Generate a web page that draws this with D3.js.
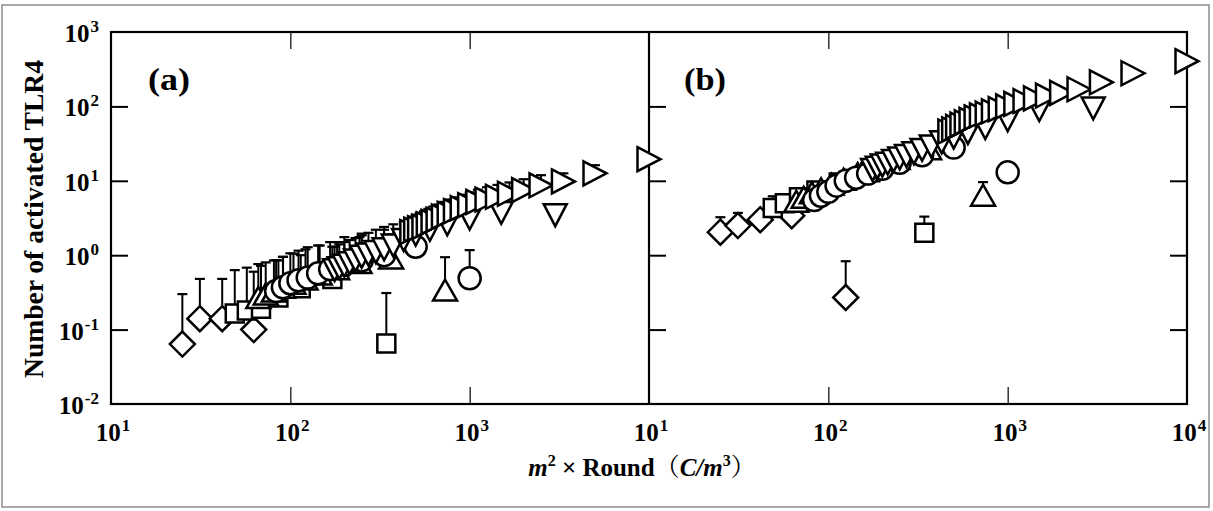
<!DOCTYPE html>
<html><head><meta charset="utf-8">
<script src="https://cdn.jsdelivr.net/npm/d3@7"></script>
<style>
html,body{margin:0;padding:0;background:#fff;}
svg text{font-family:"Liberation Serif","Times New Roman",serif;font-weight:bold;fill:#000;}
</style></head>
<body>
<svg id="chart" width="1213" height="511"></svg>
<script>
// ---------------- data ----------------
const xTickValues = [10, 100, 1000, 10000];
const xTickExpA = ["1", "2", "3"];
const xTickExpB = ["1", "2", "3", "4"];
const yTickValues = [0.01, 0.1, 1, 10, 100, 1000];
const yTickExp = ["-2", "-1", "0", "1", "2", "3"];
const panelLabels = ["(a)", "(b)"];
const yTitle = "Number of activated TLR4";

// panel (a)
const aDiamondX = [25, 31.3, 41.7, 62.5];
const aDiamondY = [0.064, 0.14, 0.14, 0.10];
const aDiamondHi = [0.30, 0.48, 0.48, 0.60];

const aSquareX = [343, 171.5, 114.3, 85.8, 68.6, 57.2, 49];
const aSquareY = [0.065, 0.48, 0.36, 0.27, 0.19, 0.18, 0.165];
const aSquareHi = [0.31, 1.3, 1.0, 0.85, 0.72, 0.68, 0.63];

const aUpX = [729, 364.5, 243, 182.3, 145.8, 121.5, 104.1, 91.1, 81, 72.9, 66.3];
const aUpY = [0.34, 0.92, 0.8, 0.66, 0.56, 0.48, 0.42, 0.37, 0.33, 0.30, 0.27];
const aUpHi = [0.94, 1.9, 1.75, 1.5, 1.35, 1.2, 1.05, 0.95, 0.85, 0.8, 0.76];

const aCircleX = [1000, 500, 333.3, 250, 200, 166.7, 142.9, 125, 111.1, 100, 90.9, 83.3];
const aCircleY = [0.49, 1.3, 1.0, 0.85, 0.75, 0.65, 0.57, 0.5, 0.46, 0.42, 0.37, 0.33];
const aCircleHi = [1.17, 2.6, 2.2, 1.95, 1.75, 1.5, 1.35, 1.28, 1.15, 1.06, 0.95, 0.86];

const aDownX = [3000, 1500, 1000, 750, 600, 500, 428.6, 375, 333.3, 300, 272.7, 250, 230.8, 214.3, 200, 187.5, 176.5];
const aDownY = [3.45, 3.7, 3.1, 2.6, 2.2, 1.9, 1.6, 1.35, 1.2, 1.1, 1.02, 0.95, 0.85, 0.78, 0.72, 0.67, 0.63];
const aDownHi = [4.0, 4.6, 4.2, 3.8, 3.4, 3.1, 2.8, 2.6, 2.4, 2.2, 2.0, 1.85, 1.7, 1.6, 1.5, 1.4, 1.3];

const aRightX = [10000, 5000, 3333, 2500, 2000, 1667, 1429, 1250, 1111, 1000, 909, 833, 769, 714, 667, 625, 588, 556, 526, 500, 476];
const aRightY = [19.5, 12.6, 9.8, 8.7, 7.5, 6.7, 6.1, 5.6, 5.2, 4.7, 4.3, 3.9, 3.6, 3.3, 3.0, 2.8, 2.6, 2.4, 2.3, 2.2, 2.05];
const aRightHi = [22, 16.2, 12.6, 11.9, 10.5, 9.5, 8.8, 8.2, 7.6, 7.0, 6.5, 6.0, 5.6, 5.2, 4.8, 4.5, 4.2, 3.9, 3.7, 3.5, 3.3];

// panel (b)
const bDiamondX = [25, 31.3, 41.7, 62.5, 125];
const bDiamondY = [2.04, 2.5, 3.0, 3.4, 0.27];
const bDiamondHi = [3.24, 3.7, 3.3, 3.8, 0.83];

const bSquareX = [343, 171.5, 114.3, 85.8, 68.6, 57.2, 49];
const bSquareY = [2.0, 13, 9.5, 7.4, 6.0, 5.0, 4.3];
const bSquareHi = [3.3, 14, 10.5, 8.2, 6.6, 5.6, 6.2];

const bUpX = [729, 364.5, 243, 182.3, 145.8, 121.5, 104.1, 91.1, 81, 72.9, 66.3];
const bUpY = [6.4, 27, 20, 15.5, 12.5, 10.5, 9, 7.8, 6.9, 6.0, 5.3];
const bUpHi = [9.6, 30, 22, 17, 14, 11.5, 10, 8.6, 7.6, 6.6, 6.0];

const bCircleX = [1000, 500, 333.3, 250, 200, 166.7, 142.9, 125, 111.1, 100, 90.9, 83.3];
const bCircleY = [13, 28, 22, 17.5, 14.5, 12.5, 11, 10, 8.6, 7.1, 6.3, 5.5];
const bCircleHi = [13.5, 31, 24, 19, 16, 13.5, 12, 11, 9.4, 7.8, 6.9, 6.0];

const bDownX = [3000, 1500, 1000, 750, 600, 500, 428.6, 375, 333.3, 300, 272.7, 250, 230.8, 214.3, 200, 187.5, 176.5];
const bDownY = [94, 89, 65, 51, 44, 38, 33, 29, 26, 23.5, 21.5, 20, 18.5, 17, 16, 15, 14];
const bDownHi = [104, 98, 72, 56, 48, 42, 36, 32, 29, 26, 24, 22, 20, 19, 18, 16.5, 15.5];

const bRightX = [10000, 5000, 3333, 2500, 2000, 1667, 1429, 1250, 1111, 1000, 909, 833, 769, 714, 667, 625, 588, 556, 526, 500, 476];
const bRightY = [405, 279, 211, 170, 152, 140, 128, 118, 108, 100, 92, 86, 80, 76, 71, 66, 61, 57, 53, 49, 46];
const bRightHi = [440, 305, 230, 185, 166, 152, 140, 129, 118, 109, 100, 94, 87, 83, 77, 72, 67, 62, 58, 53, 50];

// ---------------- layout ----------------
const svg = d3.select("#chart");
const plotTop = 32, plotBottom = 404;
const aL = 111, mid = 649, bR = 1187;
const tickLen = 17;

const yS = d3.scaleLog().domain([0.01, 1000]).range([plotBottom, plotTop]);
const xa = d3.scaleLog().domain([10, 10000]).range([aL, mid]);
const xb = d3.scaleLog().domain([10, 10000]).range([mid, bR]);

// outer gray border
svg.append("rect").attr("x", 2).attr("y", 5).attr("width", 1207).attr("height", 502)
  .attr("fill", "none").attr("stroke", "#8c8c8c").attr("stroke-width", 1.5);

function styleAxis(g, w) {
  g.select(".domain").remove();
  g.selectAll(".tick text").remove();
  g.selectAll(".tick line").attr("stroke", "#000").attr("stroke-width", w);
}
const innerX = xTickValues.slice(1, 3);
[xa, xb].forEach(sx => {
  svg.append("g").attr("transform", `translate(0,${plotBottom})`)
    .call(d3.axisBottom(sx).tickValues(innerX).tickSize(-tickLen)).call(g => styleAxis(g, 1.2));
  svg.append("g").attr("transform", `translate(0,${plotTop})`)
    .call(d3.axisTop(sx).tickValues(innerX).tickSize(-tickLen)).call(g => styleAxis(g, 1.2));
});
const innerY = yTickValues.slice(1, 5);
svg.append("g").attr("transform", `translate(${aL},0)`)
  .call(d3.axisLeft(yS).tickValues(innerY).tickSize(-tickLen)).call(g => styleAxis(g, 2));
svg.append("g").attr("transform", `translate(${mid},0)`)
  .call(d3.axisLeft(yS).tickValues(innerY).tickSize(-tickLen)).call(g => styleAxis(g, 2));
svg.append("g").attr("transform", `translate(${bR},0)`)
  .call(d3.axisRight(yS).tickValues(innerY).tickSize(-tickLen)).call(g => styleAxis(g, 2));

// frame
svg.append("rect").attr("x", aL).attr("y", plotTop).attr("width", bR - aL).attr("height", plotBottom - plotTop)
  .attr("fill", "none").attr("stroke", "#000").attr("stroke-width", 2.2);
svg.append("line").attr("x1", mid).attr("x2", mid).attr("y1", plotTop).attr("y2", plotBottom)
  .attr("stroke", "#000").attr("stroke-width", 2.2);

// tick labels
const fsMain = 25, fsSup = 17;
function powLabel(x, yy, exp, anchor) {
  const t = svg.append("text").attr("x", x).attr("y", yy).attr("text-anchor", anchor)
    .style("font-size", fsMain + "px");
  t.append("tspan").text("10");
  t.append("tspan").attr("dy", -10).attr("dx", 1).style("font-size", fsSup + "px").text(exp);
  return t;
}
yTickValues.forEach((v, i) => powLabel(99, yS(v) + 10, yTickExp[i], "end"));
xTickValues.slice(0, 3).forEach((v, i) => powLabel(xa(v) + 2, 441, xTickExpA[i], "middle"));
xTickValues.forEach((v, i) => powLabel(xb(v) + 2, 441, xTickExpB[i], "middle"));

// panel labels
svg.append("text").attr("x", 148).attr("y", 90).style("font-size", "31px")
  .attr("textLength", 42).attr("lengthAdjust", "spacingAndGlyphs").text(panelLabels[0]);
svg.append("text").attr("x", 684).attr("y", 90).style("font-size", "31px")
  .attr("textLength", 42).attr("lengthAdjust", "spacingAndGlyphs").text(panelLabels[1]);

// y title
svg.append("text").attr("transform", `translate(43,${(60 + 378) / 2}) rotate(-90)`)
  .attr("text-anchor", "middle").style("font-size", "27px")
  .attr("textLength", 318).attr("lengthAdjust", "spacingAndGlyphs").text(yTitle);

// x title: m² × Round（C/m³）
const xt = svg.append("text").attr("x", 642).attr("y", 476).attr("text-anchor", "middle")
  .style("font-size", "25px");
xt.append("tspan").style("font-style", "italic").text("m");
xt.append("tspan").attr("dy", -10).style("font-size", "16px").text("2");
xt.append("tspan").attr("dy", 10).text(" \u00D7 Round");
xt.append("tspan").style("font-family", "'Noto Serif CJK JP','Noto Sans CJK JP',serif").style("font-weight", "normal").text("\uFF08");
xt.append("tspan").style("font-style", "italic").text("C/m");
xt.append("tspan").attr("dy", -10).style("font-size", "16px").text("3");
xt.append("tspan").attr("dy", 10).style("font-family", "'Noto Serif CJK JP','Noto Sans CJK JP',serif").style("font-weight", "normal").text("\uFF09");

// ---------------- marks ----------------
const shapes = {
  diamond: "M0,-12.5L12.5,0L0,12.5L-12.5,0Z",
  square: "M-9,-9H9V9H-9Z",
  circle: "M11,0A11,11 0 1,1 -11,0A11,11 0 1,1 11,0Z",
  up: "M0,-10.5L12,10.5L-12,10.5Z",
  down: "M-11.5,-11L11.5,-11L0,11Z",
  right: "M-11.5,-12L11.5,0L-11.5,12Z"
};
const seriesA = [
  ["diamond", aDiamondX, aDiamondY, aDiamondHi],
  ["square", aSquareX, aSquareY, aSquareHi],
  ["up", aUpX, aUpY, aUpHi],
  ["circle", aCircleX, aCircleY, aCircleHi],
  ["down", aDownX, aDownY, aDownHi],
  ["right", aRightX, aRightY, aRightHi]
];
const seriesB = [
  ["diamond", bDiamondX, bDiamondY, bDiamondHi],
  ["square", bSquareX, bSquareY, bSquareHi],
  ["up", bUpX, bUpY, bUpHi],
  ["circle", bCircleX, bCircleY, bCircleHi],
  ["down", bDownX, bDownY, bDownHi],
  ["right", bRightX, bRightY, bRightHi]
];
function drawPanel(series, sx) {
  const errG = svg.append("g");
  const markG = svg.append("g");
  series.forEach(([shape, xs, ys, his]) => {
    const pts = xs.map((v, i) => ({x: v, y: ys[i], hi: his[i]})).sort((p, q) => p.x - q.x);
    pts.forEach(p => {
      const px = sx(p.x), py = yS(p.y), ph = yS(p.hi);
      errG.append("line").attr("x1", px).attr("x2", px).attr("y1", py).attr("y2", ph)
        .attr("stroke", "#000").attr("stroke-width", 2);
      errG.append("line").attr("x1", px - 5).attr("x2", px + 5).attr("y1", ph).attr("y2", ph)
        .attr("stroke", "#000").attr("stroke-width", 2.2);
    });
    markG.selectAll(null).data(pts).enter().append("path")
      .attr("d", shapes[shape])
      .attr("transform", d => `translate(${sx(d.x)},${yS(d.y)})`)
      .attr("fill", "#fff").attr("stroke", "#000").attr("stroke-width", 2.5)
      .attr("stroke-linejoin", "miter");
  });
}
drawPanel(seriesA, xa);
drawPanel(seriesB, xb);
</script>
</body></html>
